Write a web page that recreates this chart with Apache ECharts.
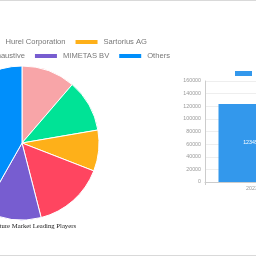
<!DOCTYPE html>
<html>
<head>
<meta charset="utf-8">
<script src="https://cdn.jsdelivr.net/npm/echarts@6/dist/echarts.min.js"></script>
<style>
  html, body { margin: 0; padding: 0; background: #fff; overflow: hidden; }
  #chart { position: absolute; left: 0; top: 0; width: 400px; height: 256px; }
  .rule { position: absolute; left: 0; width: 256px; height: 1px; background: #d9d9d9; }
</style>
</head>
<body>
<div id="chart"></div>
<div class="rule" style="top:0"></div>
<div class="rule" style="top:255px"></div>
<script>
// ---- data ----
const pieTitle = '3D Cell Culture Market Leading Players';
const pieNames = ['InSphero AG', 'Hurel Corporation', 'Sartorius AG', 'List Not Exhaustive', 'MIMETAS BV', 'Others'];
const pieShares = [11.3, 11.0, 8.6, 15.1, 12.2, 41.8];
const pieColors = ['#f8a5a8', '#00e396', '#feb019', '#ff4560', '#775dd0', '#008ffb'];
const legendRow1 = ['InSphero AG', 'Hurel Corporation', 'Sartorius AG'];
const legendRow2 = ['List Not Exhaustive', 'MIMETAS BV', 'Others'];

const barSeriesName = 'Market Size';
const barCategories = ['2023'];
const barValues = [123456];
const barColor = '#3398ec';

// ---- chart ----
const W = 400;
const chart = echarts.init(document.getElementById('chart'), null, { renderer: 'canvas' });
const legendText = { fontFamily: 'Liberation Sans', fontSize: 7.6, color: '#777' };
chart.setOption({
  animation: false,
  title: {
    text: pieTitle,
    right: W - 76, top: 223, padding: 0,
    textStyle: { fontFamily: 'Liberation Serif', fontSize: 6.7, fontWeight: 'normal', color: '#222' }
  },
  legend: [
    { data: legendRow1, right: W - 147, top: 38, width: 700, padding: 0, itemGap: 8, itemWidth: 24, itemHeight: 6,
      icon: 'rect', textStyle: legendText },
    { data: legendRow2, right: W - 170, top: 52, width: 700, padding: 0, itemGap: 8, itemWidth: 24, itemHeight: 6,
      icon: 'rect', textStyle: legendText },
    { data: [barSeriesName], left: 235, top: 71, padding: 0, itemWidth: 17, itemHeight: 5,
      icon: 'rect', textStyle: { fontFamily: 'Liberation Sans', fontSize: 5.3, color: '#777' } }
  ],
  grid: { left: 205, top: 81, width: 94, height: 101, containLabel: false },
  xAxis: {
    type: 'category', data: barCategories,
    axisLine: { lineStyle: { color: '#ccc' } },
    axisTick: { show: true, length: 3, lineStyle: { color: '#ccc' } },
    axisLabel: { fontFamily: 'Liberation Sans', fontSize: 5.3, color: '#999', margin: 4 }
  },
  yAxis: {
    type: 'value', min: 0, max: 160000, interval: 20000,
    axisLine: { show: true, lineStyle: { color: '#ccc' } },
    axisTick: { show: false },
    splitLine: { lineStyle: { color: '#eee' } },
    axisLabel: { fontFamily: 'Liberation Sans', fontSize: 5.3, color: '#999', margin: 4,
      formatter: v => String(v) }
  },
  series: [
    {
      type: 'pie', center: [22, 143], radius: 77, startAngle: 90, clockwise: true,
      label: { show: false }, labelLine: { show: false },
      itemStyle: { borderColor: '#fff', borderWidth: 1 },
      data: pieNames.map((n, i) => ({ name: n, value: pieShares[i], itemStyle: { color: pieColors[i] } }))
    },
    {
      type: 'bar', name: barSeriesName, data: barValues, barWidth: 67,
      itemStyle: { color: barColor },
      label: { show: true, position: 'inside', color: '#fff', fontFamily: 'Liberation Sans', fontSize: 5.3 }
    }
  ]
});
</script>
</body>
</html>
